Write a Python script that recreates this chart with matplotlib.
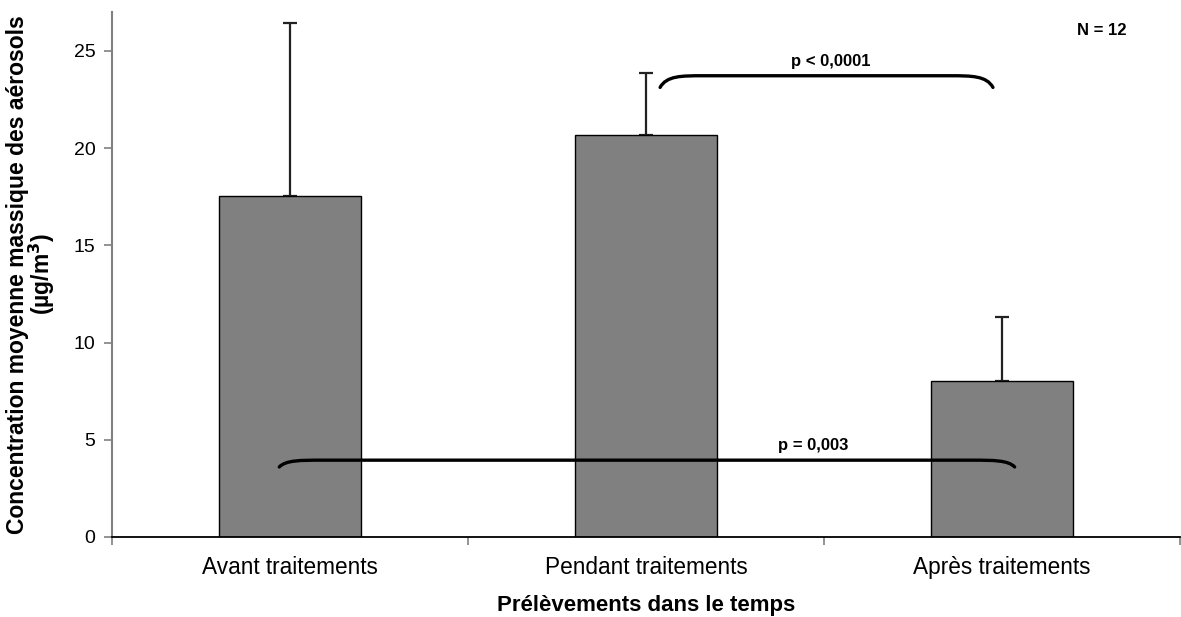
import matplotlib
matplotlib.use("Agg")
import matplotlib.pyplot as plt
from matplotlib.path import Path
from matplotlib.patches import PathPatch
import numpy as np

plt.rcParams['font.family'] = ['Liberation Sans', 'DejaVu Sans']

categories = ["Avant traitements", "Pendant traitements", "Après traitements"]
means = [17.55, 20.65, 8.0]
errors = [8.9, 3.2, 3.3]
yticks = [0, 5, 10, 15, 20, 25]
comparisons = [(1, 2, "p < 0,0001"), (0, 2, "p = 0,003")]
n_label = "N = 12"

fig = plt.figure(figsize=(11.81, 6.17), dpi=100)
ax = fig.add_axes([0.0948, 0.1297, 0.9042, 0.8509])

x = np.arange(len(categories))
ax.bar(x, means, width=0.4, color="#808080", edgecolor="black", linewidth=1.0, zorder=2)
ax.errorbar(x, means, yerr=[np.zeros(len(errors)), errors], fmt="none",
            ecolor="#222222", elinewidth=1.6, capsize=5, capthick=1.6, zorder=1)

ax.set_xlim(-0.5, len(categories) - 0.5)
ax.set_ylim(0, 27)
ax.set_yticks(yticks)
ax.set_yticklabels([str(v) for v in yticks], fontsize=14)
ax.set_xticks(x)
ax.set_xticklabels(categories, fontsize=16.3)
ax.tick_params(axis="x", which="major", length=0, pad=14)
ax.set_xticks(np.arange(-0.5, len(categories)), minor=True)
ax.tick_params(axis="x", which="minor", length=6, color="#808080", width=1.2)
ax.tick_params(axis="y", length=6, color="#808080", width=1.2, pad=6)

for s in ["top", "right"]:
    ax.spines[s].set_visible(False)
ax.spines["left"].set_color("#808080")
ax.spines["left"].set_linewidth(1.5)
ax.spines["bottom"].set_color("black")
ax.spines["bottom"].set_linewidth(1.3)

ax.set_xlabel("Prélèvements dans le temps", fontsize=16, fontweight="bold", labelpad=11)
ax.set_ylabel("Concentration moyenne massique des aérosols\n(µg/m$^\\mathbf{3}$)",
              fontsize=16.5, fontweight="bold", labelpad=12, linespacing=0.88)


def bracket(ax, x0, x1, y, drop, dx, label, tx):
    verts = [(x0, y - drop), (x0 + 0.15 * dx, y), (x0 + 0.5 * dx, y), (x0 + dx, y),
             (x1 - dx, y),
             (x1 - 0.5 * dx, y), (x1 - 0.15 * dx, y), (x1, y - drop)]
    codes = [Path.MOVETO, Path.CURVE4, Path.CURVE4, Path.CURVE4,
             Path.LINETO, Path.CURVE4, Path.CURVE4, Path.CURVE4]
    ax.add_patch(PathPatch(Path(verts, codes), facecolor="none", edgecolor="black",
                           linewidth=2.4, capstyle="round", zorder=3))
    ax.text(tx, y + 0.35, label, ha="center", va="bottom",
            fontsize=12, fontweight="bold", zorder=4)


(a1, b1, t1), (a2, b2, t2) = comparisons
bracket(ax, a1 + 0.04, b1 - 0.025, 23.72, 0.6, 0.12, t1, (a1 + b1) / 2 + 0.02)
bracket(ax, a2 - 0.03, b2 + 0.036, 3.95, 0.35, 0.12, t2, 1.47)

ax.text(0.927, 0.965, n_label, transform=ax.transAxes, ha="center", va="center",
        fontsize=12, fontweight="bold")

fig.savefig("out.png", dpi=100)
